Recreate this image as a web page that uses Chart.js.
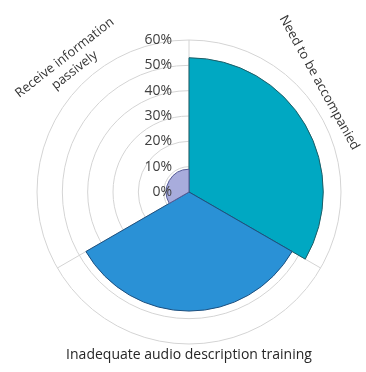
<!DOCTYPE html>
<html>
<head>
<meta charset="utf-8">
<script src="https://cdn.jsdelivr.net/npm/chart.js@4.4.1/dist/chart.umd.min.js"></script>
<style>
  html, body { margin: 0; padding: 0; background: #fff; }
  #wrap { width: 366px; height: 372px; position: relative; }
</style>
</head>
<body>
<div id="wrap"><canvas id="chart_out"></canvas></div>
<script>
// categories and values (percent)
const categories = ['Need to be accompanied', 'Inadequate audio description training', 'Receive information passively'];
const values = [53, 47, 9];
const tickValues = [0, 10, 20, 30, 40, 50, 60];

const fillColors = ['#00a8c2', '#2a91d6', '#a8acdc'];
const borderColors = ['#1e5d66', '#1d4f7e', '#555a96'];

// where the category names sit (angle from top, distance from centre, text rotation)
const labelLayout = [
  { angle: 50, dist: 170, rot: 61, lines: ['Need to be accompanied'] },
  { angle: 180, dist: 163, rot: 0, lines: ['Inadequate audio description training'] },
  { angle: -43, dist: 175, rot: -38, lines: ['Receive information', 'passively'] }
];

const labelsPlugin = {
  id: 'customLabels',
  afterDraw(chart) {
    const ctx = chart.ctx;
    const r = chart.scales.r;
    ctx.save();
    // tick labels, left of the vertical line
    ctx.font = '14px "Open Sans"';
    ctx.fillStyle = '#404040';
    ctx.textAlign = 'right';
    ctx.textBaseline = 'middle';
    tickValues.forEach(v => {
      const y = r.yCenter - r.getDistanceFromCenterForValue(v);
      ctx.fillText(v + '%', r.xCenter - 17, y);
    });
    // category names
    labelLayout.forEach((lay, i) => {
      const a = lay.angle * Math.PI / 180;
      const x = r.xCenter + Math.sin(a) * lay.dist;
      const y = r.yCenter - Math.cos(a) * lay.dist;
      ctx.save();
      ctx.translate(x, y);
      ctx.rotate(lay.rot * Math.PI / 180);
      ctx.textAlign = 'center';
      ctx.textBaseline = 'middle';
      if (lay.rot === 0) {
        ctx.font = '14px "Open Sans"';
        ctx.fillStyle = '#262626';
      } else {
        ctx.font = '13px "Open Sans"';
        ctx.fillStyle = '#333333';
      }
      const lh = 16;
      const n = lay.lines.length;
      lay.lines.forEach((t, j) => {
        ctx.fillText(t, 0, (j - (n - 1) / 2) * lh);
      });
      ctx.restore();
    });
    ctx.restore();
  }
};

const ctx = document.getElementById('chart_out').getContext('2d');
new Chart(ctx, {
  type: 'polarArea',
  data: {
    labels: categories,
    datasets: [{
      data: values,
      backgroundColor: fillColors,
      borderColor: borderColors,
      borderWidth: 1
    }]
  },
  options: {
    responsive: true,
    maintainAspectRatio: false,
    animation: false,
    layout: { padding: { left: 37, right: 25, top: 40, bottom: 28 } },
    scales: {
      r: {
        min: 0,
        max: 60,
        ticks: { display: false, stepSize: 10 },
        grid: { color: '#d4d4d4', lineWidth: 1 },
        angleLines: { display: true, color: '#d4d4d4', lineWidth: 1 },
        pointLabels: { display: false }
      }
    },
    plugins: {
      legend: { display: false },
      tooltip: { enabled: false }
    }
  },
  plugins: [labelsPlugin]
});
</script>
</body>
</html>
